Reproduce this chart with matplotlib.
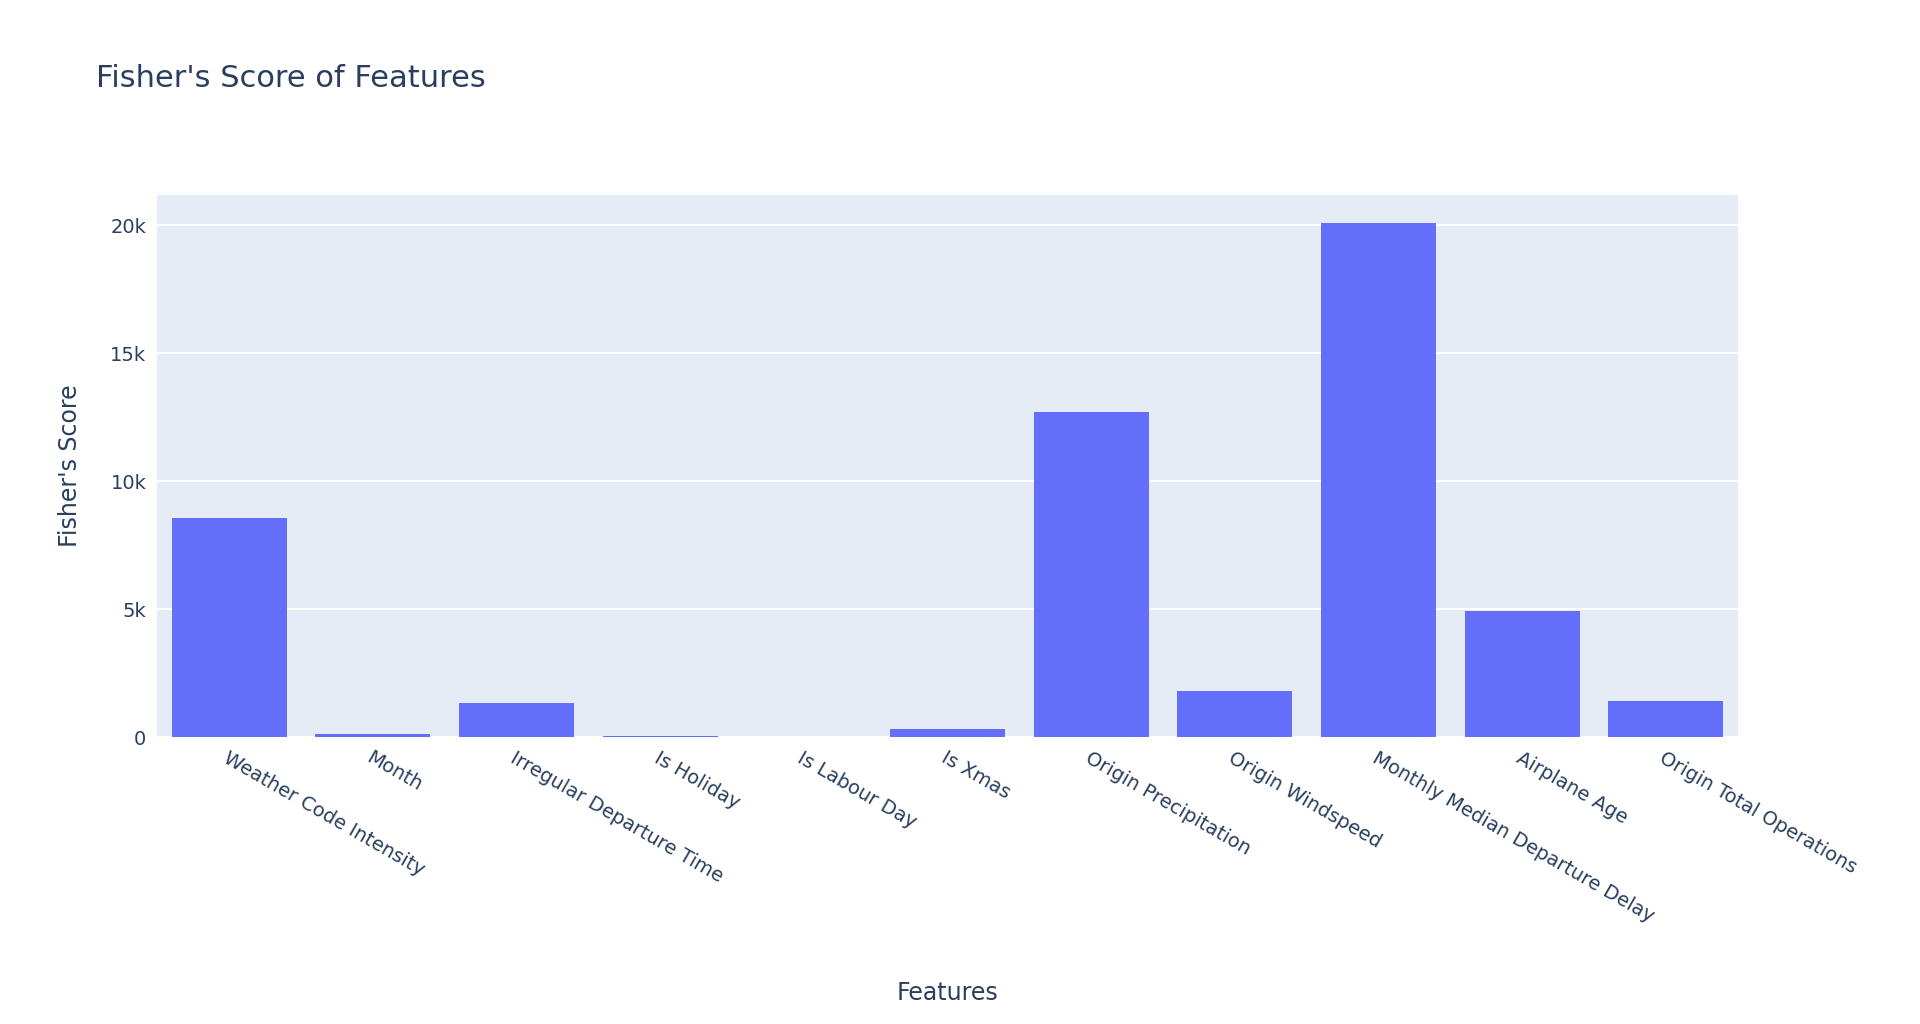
import matplotlib
matplotlib.use("Agg")
import matplotlib.pyplot as plt
from matplotlib.ticker import FuncFormatter

features = ["Weather Code Intensity", "Month", "Irregular Departure Time", "Is Holiday",
            "Is Labour Day", "Is Xmas", "Origin Precipitation", "Origin Windspeed",
            "Monthly Median Departure Delay", "Airplane Age", "Origin Total Operations"]
scores = [8550, 110, 1320, 60, 30, 310, 12700, 1800, 20100, 4950, 1430]

TXT = "#2a3f5f"
fig = plt.figure(figsize=(19.2, 10.24), dpi=100)
ax = fig.add_axes([0.082, 0.28, 0.823, 0.53])
ax.set_facecolor("#e5ecf6")
ax.bar(range(len(features)), scores, width=0.8, color="#636efa", zorder=3)
ax.set_xlim(-0.5, len(features) - 0.5)
ax.set_ylim(0, 21200)
ax.set_yticks([0, 5000, 10000, 15000, 20000])
ax.yaxis.set_major_formatter(FuncFormatter(lambda v, p: "0" if v == 0 else f"{int(v/1000)}k"))
ax.grid(axis="y", color="white", lw=1.5, zorder=0)
for s in ax.spines.values():
    s.set_visible(False)
ax.tick_params(length=0, colors=TXT, labelsize=14, pad=8)
ax.set_xticks(range(len(features)))
ax.set_xticklabels(features, rotation=-30, ha="left", va="top", rotation_mode="anchor")
ax.set_xlabel("Features", fontsize=17, color=TXT, labelpad=40)
ax.set_ylabel("Fisher's Score", fontsize=17, color=TXT, labelpad=20)
fig.text(0.05, 0.915, "Fisher's Score of Features", fontsize=22, color=TXT)
fig.savefig("out.png", dpi=100, facecolor="white")
